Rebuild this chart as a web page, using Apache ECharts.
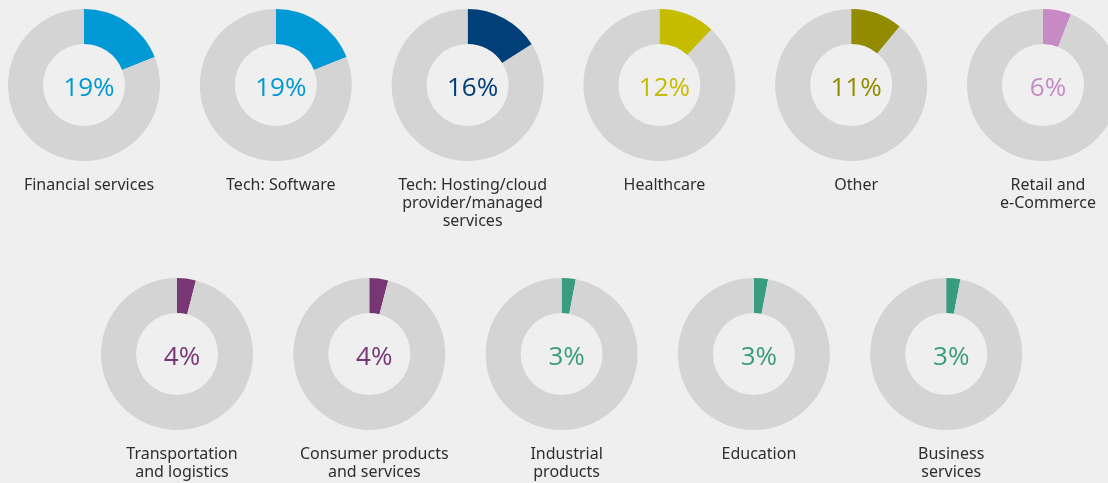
<!DOCTYPE html>
<html>
<head>
<meta charset="utf-8">
<script src="https://cdn.jsdelivr.net/npm/echarts@6/dist/echarts.min.js"></script>
<style>
  html, body { margin: 0; padding: 0; background: #efefef; }
  #chart { width: 1108px; height: 483px; }
</style>
</head>
<body>
<div id="chart"></div>
<script>
// 行业分布（每个环形图的占比）
const categories = [
  'Financial services',
  'Tech: Software',
  'Tech: Hosting/cloud\nprovider/managed\nservices',
  'Healthcare',
  'Other',
  'Retail and\ne-Commerce',
  'Transportation\nand logistics',
  'Consumer products\nand services',
  'Industrial\nproducts',
  'Education',
  'Business\nservices'
];
const shares = [19, 19, 16, 12, 11, 6, 4, 4, 3, 3, 3];

// 颜色
const sliceColors = [
  '#0099d5', '#0099d5', '#003f78', '#c5bc00', '#928b00', '#c68bc4',
  '#773774', '#773774', '#3a9c7f', '#3a9c7f', '#3a9c7f'
];
const restColor = '#d4d4d4';

// 布局：第一行 6 个，第二行 5 个
function centerOf(i) {
  if (i < 6) return [84 + i * 191.8, 85];
  return [177 + (i - 6) * 192.3, 354];
}

const series = [];
const titles = [];
shares.forEach((v, i) => {
  const c = centerOf(i);
  series.push({
    type: 'pie',
    center: c,
    radius: [41, 76],
    startAngle: 90,
    clockwise: true,
    silent: true,
    label: { show: false },
    labelLine: { show: false },
    data: [
      { value: v, itemStyle: { color: sliceColors[i] } },
      { value: 100 - v, itemStyle: { color: restColor } }
    ]
  });
  // 中间百分比
  titles.push({
    text: v + '%',
    left: c[0],
    top: c[1] - 18,
    textAlign: 'center',
    textStyle: {
      fontFamily: 'Open Sans',
      fontWeight: 'normal',
      fontSize: 26,
      lineHeight: 34,
      color: sliceColors[i]
    }
  });
  // 类别名称
  titles.push({
    text: categories[i],
    left: c[0],
    top: c[1] + 86,
    textAlign: 'center',
    textStyle: {
      fontFamily: 'Noto Sans',
      fontWeight: 'normal',
      fontSize: 16,
      lineHeight: 18,
      color: '#2e2e2e'
    }
  });
});

const chart = echarts.init(document.getElementById('chart'));
chart.setOption({
  backgroundColor: '#efefef',
  animation: false,
  title: titles,
  series: series
});
</script>
</body>
</html>
